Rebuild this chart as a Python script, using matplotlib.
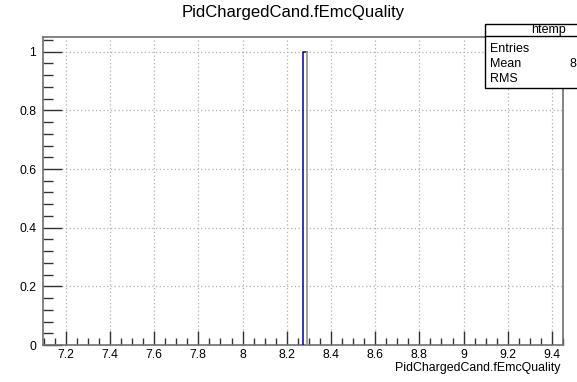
import matplotlib
matplotlib.use("Agg")
import matplotlib.pyplot as plt
from matplotlib.ticker import MultipleLocator, FuncFormatter
from matplotlib.patches import Rectangle
from matplotlib.lines import Line2D

# data
bin_edges = [8.2735, 8.2935]
counts = [1]
title = "PidChargedCand.fEmcQuality"
xlabel = "PidChargedCand.fEmcQuality"
stats_name = "htemp"
stats_labels = ["Entries", "Mean", "RMS"]
stats_values = ["1", "8.283", "0"]

plt.rcParams['font.family'] = ['Liberation Sans', 'DejaVu Sans']

W, H = 577, 382
fig = plt.figure(figsize=(W / 100, H / 100), dpi=100)
ax = fig.add_axes([43 / W, 1 - 345 / H, (563 - 43) / W, (345 - 37) / H])

ax.set_xlim(7.097, 9.45)
ax.set_ylim(0, 1.05)

# histogram outline
for i, c in enumerate(counts):
    l, r = bin_edges[i], bin_edges[i + 1]
    ax.plot([l, l, r], [0, c, c], color='#000099', lw=1.1, zorder=3)
    ax.plot([r, r], [0, c], color='#9a9a9a', lw=1.3, zorder=3)

ax.xaxis.set_major_locator(MultipleLocator(0.2))
ax.xaxis.set_minor_locator(MultipleLocator(0.05))
ax.yaxis.set_major_locator(MultipleLocator(0.2))
ax.yaxis.set_minor_locator(MultipleLocator(0.04))

def fmt(v, pos):
    s = f"{v:.1f}"
    if s.endswith(".0"):
        s = s[:-2]
    return s

ax.xaxis.set_major_formatter(FuncFormatter(fmt))
ax.yaxis.set_major_formatter(FuncFormatter(fmt))

ax.tick_params(which='both', direction='in', top=False, right=False, colors='#333333',
               labelcolor='black', labelsize=8.8)
ax.tick_params(axis='y', which='major', length=14, width=1, pad=5)
ax.tick_params(axis='y', which='minor', length=7, width=1)
ax.tick_params(axis='x', which='major', length=10, width=1, pad=3)
ax.tick_params(axis='x', which='minor', length=5, width=1)

ax.grid(True, which='major', linestyle=(0, (1, 2)), color='#b0b0b0', lw=0.9)
for s in ax.spines.values():
    s.set_color('#707070')
    s.set_linewidth(1.2)

fig.text(293 / W, 1 - 12 / H, title, ha='center', va='center', fontsize=12)
fig.text(560 / W, 1 - 371 / H, xlabel, ha='right', va='baseline', fontsize=8.9)

# stats box (extends past the right edge of the canvas, as in the reference)
bx0, by0, bx1, by1 = 485, 24, 611, 88
fig.patches.append(Rectangle((bx0 / W, 1 - by1 / H), (bx1 - bx0) / W, (by1 - by0) / H,
                             transform=fig.transFigure, facecolor='white',
                             edgecolor='black', lw=1.0, zorder=5))
fig.lines.append(Line2D([bx0 / W, bx1 / W], [1 - 36 / H, 1 - 36 / H],
                        transform=fig.transFigure, color='black', lw=1.0, zorder=6))
fig.text(548 / W, 1 - 30 / H, stats_name, ha='center', va='center',
         fontsize=9, zorder=7)
rows_y = [49, 64, 79]
for lab, val, yy in zip(stats_labels, stats_values, rows_y):
    y = 1 - yy / H
    fig.text(490 / W, y, lab, ha='left', va='center', fontsize=9, zorder=7)
    fig.text(600 / W, y, val, ha='right', va='center', fontsize=9, zorder=7)

fig.savefig("out.png", dpi=100)
